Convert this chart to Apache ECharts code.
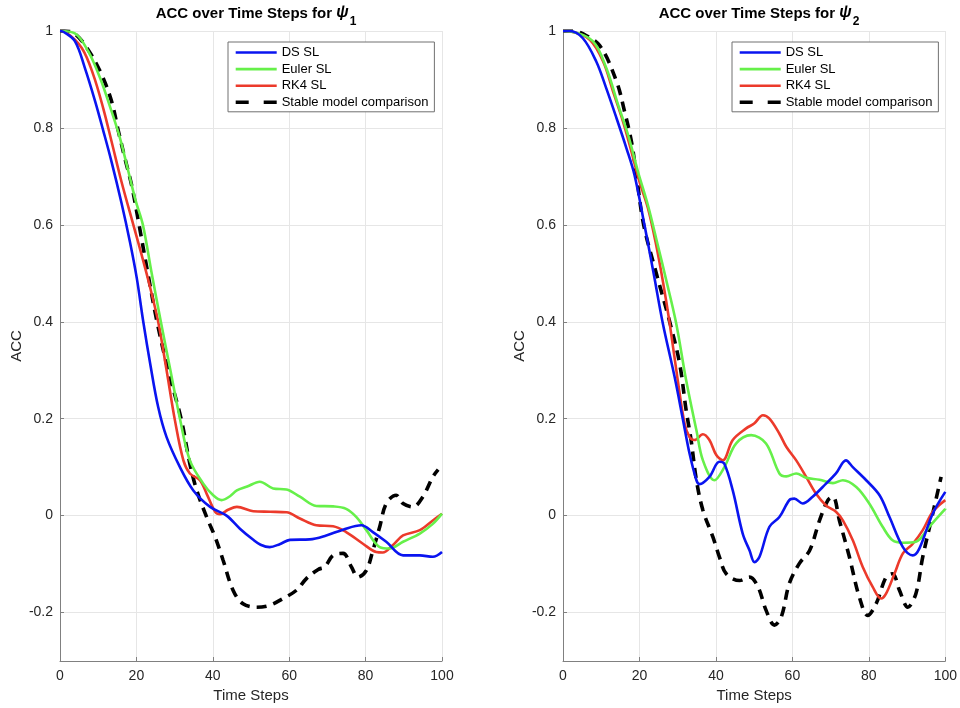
<!DOCTYPE html>
<html>
<head>
<meta charset="utf-8">
<script src="https://cdn.jsdelivr.net/npm/echarts@6/dist/echarts.min.js"></script>
<style>
html,body{margin:0;padding:0;background:#fff;}
#chart{width:960px;height:708px;}
</style>
</head>
<body>
<div id="chart"></div>
<script>
// ---- Data (x = time step, y = ACC) ----
const seriesNames = ['DS SL', 'Euler SL', 'RK4 SL', 'Stable model comparison'];
const xTicks = [0, 20, 40, 60, 80, 100];
const yTicks = [-0.2, 0, 0.2, 0.4, 0.6, 0.8, 1];

// Left panel (psi_1)
const dsSL1 = [[0,1],[1,0.998],[3.9,0.979],[6.5,0.924],[9.2,0.855],[11.3,0.795],[13.5,0.73],[16.1,0.645],[18.3,0.565],[20.1,0.49],[21.8,0.4],[23.6,0.314],[25.7,0.224],[27.9,0.162],[31.4,0.1],[34.9,0.052],[39.3,0.018],[43.6,0.0],[47.1,-0.027],[50.6,-0.05],[52.5,-0.06],[54.9,-0.065],[57.5,-0.059],[60.2,-0.05],[65.4,-0.049],[69.7,-0.041],[74.1,-0.029],[78.9,-0.02],[81.9,-0.034],[85.4,-0.054],[89.8,-0.082],[94.2,-0.082],[97.6,-0.085],[100,-0.075]];
const eulerSL1 = [[0,1],[3.9,0.995],[7.4,0.958],[10.5,0.903],[13.5,0.834],[15.7,0.779],[17.9,0.71],[19.8,0.65],[21.7,0.6],[24,0.5],[26.4,0.4],[28.9,0.3],[31.4,0.2],[34,0.114],[37.5,0.066],[40.1,0.042],[42.3,0.032],[44.5,0.04],[46.3,0.052],[49,0.06],[52.3,0.07],[55.8,0.056],[59.3,0.054],[62.8,0.039],[67.1,0.02],[71.5,0.019],[74.9,0.014],[77.6,-0.003],[80.2,-0.03],[83.7,-0.065],[86.3,-0.068],[89.8,-0.054],[94.2,-0.037],[97.6,-0.017],[100,0.004]];
const rk4SL1 = [[0,1],[1.4,0.998],[5.7,0.965],[8.7,0.91],[11.3,0.841],[13.5,0.772],[16.1,0.689],[19.2,0.6],[21.3,0.54],[23.3,0.48],[25.7,0.4],[27.9,0.3],[30.1,0.196],[32.3,0.114],[34,0.087],[36.6,0.073],[38.4,0.045],[40.6,0.008],[41.9,0.003],[44,0.012],[46.3,0.018],[50.6,0.009],[55,0.008],[59.3,0.007],[62.8,-0.006],[67.1,-0.02],[71.5,-0.022],[74.9,-0.034],[79.3,-0.058],[82.8,-0.075],[84.5,-0.076],[87.1,-0.061],[89.8,-0.041],[94.2,-0.03],[97.6,-0.01],[100,0.004]];
const stable1 = [[0,1],[1.2,1.0],[3.9,0.994],[7.4,0.961],[10.9,0.91],[13.5,0.855],[15.3,0.793],[17,0.737],[18.8,0.68],[20.7,0.6],[23,0.5],[25.4,0.4],[28.3,0.3],[31.7,0.2],[34,0.107],[35.8,0.052],[38.4,-0.003],[40.6,-0.044],[42.7,-0.092],[45.3,-0.154],[47.9,-0.182],[51.4,-0.189],[54.9,-0.185],[58.4,-0.171],[61.9,-0.154],[64.5,-0.13],[67.6,-0.111],[69.3,-0.106],[71.5,-0.082],[74.1,-0.078],[76.3,-0.106],[78,-0.127],[80.2,-0.113],[81.9,-0.072],[83.7,-0.023],[85.4,0.025],[88,0.042],[89.8,0.025],[92.4,0.018],[95,0.039],[97.6,0.08],[99,0.095]];

// Right panel (psi_2)
const dsSL2 = [[0,1],[1.75,1],[5.2,0.985],[8.7,0.937],[11.3,0.882],[14,0.82],[16.6,0.758],[18.7,0.703],[21.3,0.6],[23.7,0.5],[26.1,0.397],[29.2,0.286],[31.4,0.197],[33.1,0.128],[34.9,0.073],[35.7,0.065],[38.3,0.08],[40.9,0.111],[42.2,0.107],[44.4,0.052],[47,-0.037],[48.8,-0.072],[50.1,-0.096],[51.4,-0.085],[54,-0.023],[56.6,-0.003],[59.2,0.032],[60.5,0.035],[62.7,0.025],[65.3,0.039],[68.8,0.066],[71.4,0.087],[74,0.114],[75.8,0.1],[79.3,0.073],[82.8,0.042],[85.4,-0.003],[88.9,-0.065],[91.5,-0.082],[93.2,-0.068],[96.7,0.004],[100,0.049]];
const eulerSL2 = [[0,1],[2,0.999],[7.8,0.979],[11.3,0.924],[14.4,0.848],[17,0.786],[19.6,0.71],[22.2,0.641],[24.8,0.558],[27,0.486],[29.6,0.397],[32.2,0.28],[34.9,0.176],[36.6,0.114],[39.6,0.073],[42.2,0.1],[45.3,0.149],[49.2,0.166],[53.1,0.149],[56.6,0.087],[58.4,0.081],[61,0.087],[63.6,0.078],[67.1,0.074],[70.6,0.067],[73.2,0.073],[76.7,0.059],[80.1,0.025],[83.6,-0.023],[86.2,-0.051],[88.9,-0.056],[92.3,-0.054],[95.8,-0.023],[100,0.014]];
const rk4SL2 = [[0,1],[2,0.999],[7,0.982],[10.5,0.937],[13.1,0.875],[15.7,0.813],[17.9,0.751],[20,0.689],[22.2,0.635],[24.2,0.565],[26.2,0.48],[27.9,0.397],[30,0.28],[31.8,0.19],[33.1,0.162],[34.4,0.156],[36.6,0.168],[38.3,0.156],[40.1,0.125],[41.8,0.114],[44.4,0.156],[47.9,0.18],[50,0.19],[52.3,0.207],[54,0.2],[56.6,0.169],[58.4,0.142],[61,0.114],[63.6,0.08],[66.2,0.045],[68.8,0.021],[71.4,0.008],[73.2,-0.01],[75.8,-0.051],[78.4,-0.106],[81,-0.147],[83.2,-0.171],[84.5,-0.161],[86.7,-0.12],[88.9,-0.078],[91.5,-0.058],[94.1,-0.03],[96.7,0.008],[100,0.032]];
const stable2 = [[0,1],[2.6,1],[5,0.995],[9.6,0.97],[14,0.896],[16.1,0.834],[17.9,0.772],[19.2,0.703],[21.1,0.6],[24.4,0.5],[27.9,0.4],[30.5,0.314],[32.2,0.218],[33.5,0.156],[34.9,0.073],[36.6,0.011],[39.2,-0.044],[40.9,-0.085],[42.7,-0.12],[46.2,-0.134],[48.8,-0.127],[51,-0.147],[53.1,-0.195],[55.3,-0.226],[57.1,-0.209],[59.2,-0.14],[61.8,-0.099],[64.5,-0.072],[67.1,-0.01],[69.3,0.032],[70.6,0.039],[72.3,-0.01],[74.9,-0.085],[77.5,-0.168],[79.7,-0.206],[81.9,-0.182],[84.5,-0.127],[86.2,-0.12],[88,-0.154],[90.2,-0.189],[92.3,-0.161],[94.1,-0.085],[96.7,0.004],[98.9,0.08]];

// ---- Styling ----
const FONT = 'Liberation Sans, Arial, Helvetica, sans-serif';
const colors = ['#0a14f0', '#66f04a', '#ec3a2b', '#000000'];
const lineWidths = [2.6, 2.6, 2.6, 3.6];

const chart = echarts.init(document.getElementById('chart'), null, {renderer: 'canvas'});

function makeXAxis(gi) {
  return {
    type: 'value', gridIndex: gi, min: xTicks[0], max: xTicks[xTicks.length - 1], interval: xTicks[1] - xTicks[0],
    name: 'Time Steps', nameLocation: 'middle', nameGap: 27,
    nameTextStyle: {fontFamily: FONT, fontSize: 15, color: '#262626'},
    axisLine: {show: true, onZero: false, lineStyle: {color: '#808080', width: 1}},
    axisTick: {show: true, inside: true, length: 4, lineStyle: {color: '#808080'}},
    axisLabel: {fontFamily: FONT, fontSize: 14, color: '#262626', margin: 8},
    splitLine: {show: true, lineStyle: {color: '#e6e6e6', width: 1}}
  };
}
function makeYAxis(gi) {
  return {
    type: 'value', gridIndex: gi, min: -0.3, max: 1, splitNumber: 6,
    name: 'ACC', nameLocation: 'middle', nameGap: 36,
    nameTextStyle: {fontFamily: FONT, fontSize: 15, color: '#262626'},
    axisLine: {show: true, onZero: false, lineStyle: {color: '#808080', width: 1}},
    axisTick: {show: true, inside: true, length: 4, lineStyle: {color: '#808080'}},
    axisLabel: {
      fontFamily: FONT, fontSize: 14, color: '#262626', margin: 7,
      formatter: function (v) {
        const r = Math.round(v * 10) / 10;
        if (yTicks.indexOf(r) < 0) return '';
        return String(r);
      }
    },
    splitLine: {show: true, lineStyle: {color: '#e6e6e6', width: 1}}
  };
}

function makeSeries(name, data, idx, gi) {
  return {
    name: name, type: 'line', xAxisIndex: gi, yAxisIndex: gi,
    data: data, symbol: 'none', smooth: 0.35, animation: false,
    lineStyle: {
      color: colors[idx], width: lineWidths[idx],
      type: idx === 3 ? [10, 7] : 'solid'
    },
    itemStyle: {color: colors[idx]},
    z: 2 + (3 - idx)
  };
}

function makeTitle(sub, cx) {
  return {
    text: '{a|ACC over Time Steps for }{b|ψ}{c|' + sub + '}',
    left: cx, top: 2, textAlign: 'center', padding: [1, 5, 5, 5],
    textStyle: {
      rich: {
        a: {fontFamily: FONT, fontSize: 15, fontWeight: 'bold', color: '#000', lineHeight: 22, verticalAlign: 'top', padding: [3, 0, 0, 0]},
        b: {fontFamily: FONT, fontSize: 16, fontWeight: 'bold', fontStyle: 'italic', color: '#000', lineHeight: 22, verticalAlign: 'top', padding: [2, 1, 0, 0]},
        c: {fontFamily: FONT, fontSize: 12, fontWeight: 'bold', color: '#000', lineHeight: 22, verticalAlign: 'top', padding: [13, 0, 0, 0]}
      }
    }
  };
}

function makeLegend(left) {
  return {
    left: left, top: 42, orient: 'vertical',
    itemWidth: 41, itemHeight: 14, itemGap: 3.6,
    padding: [4, 6, 3, 6],
    borderColor: '#707070', borderWidth: 1, backgroundColor: '#ffffff',
    textStyle: {fontFamily: FONT, fontSize: 13, color: '#000'},
    itemStyle: {opacity: 0, borderWidth: 0},
    selectedMode: false,
    data: seriesNames.map(function (n, i) {
      return {
        name: n,
        lineStyle: {width: i === 3 ? 3.4 : 2.6, type: i === 3 ? [13, 15] : 'solid'}
      };
    })
  };
}

const option = {
  backgroundColor: '#ffffff',
  animation: false,
  title: [makeTitle('1', 251), makeTitle('2', 754)],
  legend: [makeLegend(228), makeLegend(732)],
  grid: [
    {left: 60, top: 31, width: 382, height: 630, containLabel: false},
    {left: 563, top: 31, width: 383, height: 630, containLabel: false}
  ],
  xAxis: [makeXAxis(0), makeXAxis(1)],
  yAxis: [makeYAxis(0), makeYAxis(1)],
  series: [
    makeSeries(seriesNames[0], dsSL1, 0, 0),
    makeSeries(seriesNames[1], eulerSL1, 1, 0),
    makeSeries(seriesNames[2], rk4SL1, 2, 0),
    makeSeries(seriesNames[3], stable1, 3, 0),
    makeSeries(seriesNames[0], dsSL2, 0, 1),
    makeSeries(seriesNames[1], eulerSL2, 1, 1),
    makeSeries(seriesNames[2], rk4SL2, 2, 1),
    makeSeries(seriesNames[3], stable2, 3, 1)
  ]
};
chart.setOption(option);
</script>
</body>
</html>
